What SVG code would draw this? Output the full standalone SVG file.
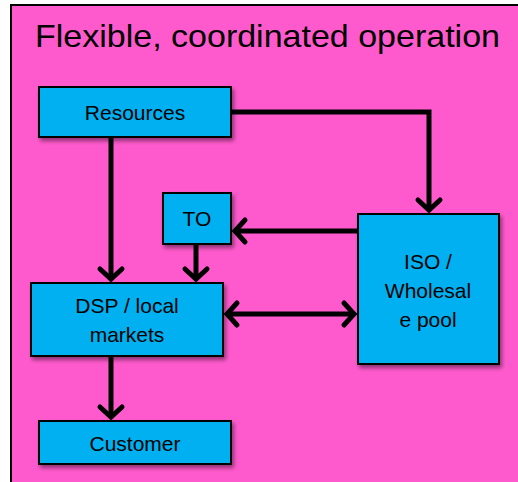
<svg xmlns="http://www.w3.org/2000/svg" width="518" height="482" viewBox="0 0 518 482">
  <defs>
    <style>
      .frame { fill: #FF5ACD; stroke: #000; stroke-width: 2; }
      .box { fill: #00B0F0; stroke: #000; stroke-width: 2; filter: url(#shadow); }
      .label { font-family: "Liberation Sans", Arial, sans-serif; font-size: 21px; fill: #000; text-anchor: middle; }
      .title { font-family: "Liberation Sans", Arial, sans-serif; font-size: 32px; fill: #000; }
      .wire { fill: none; stroke: #000; stroke-width: 5; stroke-linejoin: miter; }
    </style>
    <filter id="shadow" x="-20%" y="-20%" width="140%" height="150%">
      <feGaussianBlur in="SourceAlpha" stdDeviation="2"/>
      <feOffset dx="2" dy="3" result="blur"/>
      <feComponentTransfer><feFuncA type="linear" slope="0.45"/></feComponentTransfer>
      <feMerge><feMergeNode/><feMergeNode in="SourceGraphic"/></feMerge>
    </filter>
    <marker id="chev" markerUnits="userSpaceOnUse" viewBox="-16 -16 32 32" markerWidth="32" markerHeight="32" refX="0" refY="0" orient="auto-start-reverse">
      <path d="M-11,-11 L-1,0 L-11,11" fill="none" stroke="#000" stroke-width="5" stroke-linecap="round" stroke-linejoin="miter"/>
    </marker>
  </defs>

  <rect width="518" height="482" fill="#fff"/>
  <rect class="frame" x="11" y="5" width="520" height="490"/>

  <text class="title" x="35" y="47" textLength="465" lengthAdjust="spacingAndGlyphs">Flexible, coordinated operation</text>

  <g id="connectors">
    <path class="wire" d="M111,137 L111,280" marker-end="url(#chev)"/>
    <path class="wire" d="M231,112 L429,112 L429,211" marker-end="url(#chev)"/>
    <path class="wire" d="M196,244 L196,280" marker-end="url(#chev)"/>
    <path class="wire" d="M358,231 L234,231" marker-end="url(#chev)"/>
    <path class="wire" d="M226,314 L355,314" marker-start="url(#chev)" marker-end="url(#chev)"/>
    <path class="wire" d="M111,356 L111,418" marker-end="url(#chev)"/>
  </g>

  <g id="resources">
    <rect class="box" x="39" y="87" width="192" height="50"/>
    <text class="label" x="135" y="120">Resources</text>
  </g>

  <g id="to">
    <rect class="box" x="163" y="193" width="68" height="51"/>
    <text class="label" x="197" y="226">TO</text>
  </g>

  <g id="iso">
    <rect class="box" x="358" y="214" width="141" height="150"/>
    <text class="label" x="428" y="269">ISO /</text>
    <text class="label" x="428" y="298">Wholesal</text>
    <text class="label" x="428" y="327">e pool</text>
  </g>

  <g id="dsp">
    <rect class="box" x="31" y="283" width="192" height="73"/>
    <text class="label" x="127" y="313">DSP / local</text>
    <text class="label" x="127" y="342">markets</text>
  </g>

  <g id="customer">
    <rect class="box" x="39" y="421" width="192" height="43"/>
    <text class="label" x="135" y="451">Customer</text>
  </g>
</svg>
